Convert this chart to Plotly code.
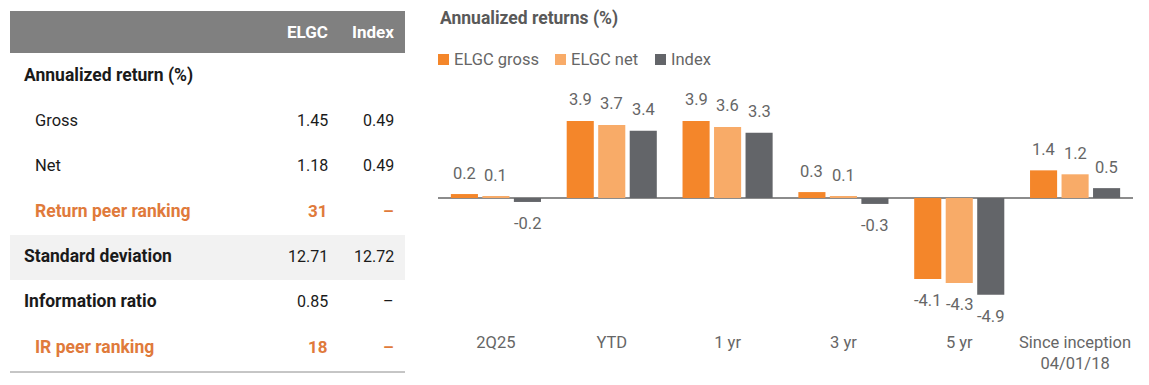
import plotly.graph_objects as go

# ---------------- data ----------------
categories = ["2Q25", "YTD", "1 yr", "3 yr", "5 yr", "Since inception<br>04/01/18"]
elgc_gross = [0.2, 3.9, 3.9, 0.3, -4.1, 1.4]
elgc_net = [0.1, 3.7, 3.6, 0.1, -4.3, 1.2]
index_ret = [-0.2, 3.4, 3.3, -0.3, -4.9, 0.5]
series_names = ["ELGC gross", "ELGC net", "Index"]

table_header = ["ELGC", "Index"]
row_labels = ["Annualized return (%)", "Gross", "Net", "Return peer ranking",
              "Standard deviation", "Information ratio", "IR peer ranking"]
row_elgc = ["", "1.45", "1.18", "31", "12.71", "0.85", "18"]
row_index = ["", "0.49", "0.49", "–", "12.72", "–", "–"]

# ---------------- styles ----------------
W, H = 1149, 385          # window size
OFF = 8                   # default body margin of the page
FW, FH = W - OFF, H - OFF # figure size
FONT = "Roboto"
colors = ["#F4862A", "#F8AB68", "#636569"]
ORANGE_TXT = "#E07A3B"
LABEL_GRAY = "#666666"
TXT = "#1A1A1A"

# table row style: (y_px, x_px, bold, orange, band)
row_style = [
    (75, 22, True, False, False),
    (120, 33, False, False, False),
    (165, 33, False, False, False),
    (211, 33, True, True, False),
    (256, 22, True, False, True),
    (301, 22, True, False, False),
    (347, 33, True, True, False),
]
COL_X = [330, 396]

# chart geometry
X0, X1 = 438, 1133
T, B, ZERO = 80, 330, 198
PPU = 19.75
BARGAP, GROUPGAP = 0.184, 0.14
cat_w = (X1 - X0) / len(categories)
slot = cat_w * (1 - BARGAP) / 3


def px(x):
    return (x - OFF) / FW


def py(y):
    return 1 - (y - OFF) / FH


fig = go.Figure()
for name, vals, col in zip(series_names, [elgc_gross, elgc_net, index_ret], colors):
    fig.add_trace(go.Bar(x=categories, y=vals, name=name, marker_color=col,
                         marker_line_width=0, showlegend=False, hoverinfo="x+y+name"))

annotations = []
shapes = []

# value labels
for j, vals in enumerate([elgc_gross, elgc_net, index_ret]):
    for c, v in zip(categories, vals):
        annotations.append(dict(
            x=c, y=v, xref="x", yref="y", text=f"{v:.1f}", showarrow=False,
            xshift=(j - 1) * slot, yshift=21 if v >= 0 else -22, yanchor="middle",
            font=dict(family=FONT, size=16.5, color=LABEL_GRAY)))

# chart title
annotations.append(dict(x=px(X0), y=py(19), xref="paper", yref="paper", xanchor="left",
                        yanchor="middle", showarrow=False, text="<b>Annualized returns (%)</b>",
                        font=dict(family=FONT, size=17.5, color="#595959")))

# legend
leg_x = [438, 555, 655]
for name, col, lx in zip(series_names, colors, leg_x):
    shapes.append(dict(type="rect", xref="paper", yref="paper",
                       x0=px(lx), x1=px(lx + 11), y0=py(65), y1=py(54),
                       fillcolor=col, line_width=0))
    annotations.append(dict(x=px(lx + 14), y=py(59), xref="paper", yref="paper",
                            xanchor="left", yanchor="middle", showarrow=False, text=name,
                            font=dict(family=FONT, size=16.5, color=LABEL_GRAY)))

# table header band
shapes.append(dict(type="rect", xref="paper", yref="paper", x0=px(10), x1=px(405),
                   y0=py(53), y1=py(11), fillcolor="#808080", line_width=0, layer="below"))
for h, cx in zip(table_header, COL_X):
    annotations.append(dict(x=px(cx), y=py(32), xref="paper", yref="paper", xanchor="right",
                            yanchor="middle", showarrow=False, text=f"<b>{h}</b>",
                            font=dict(family=FONT, size=17, color="white")))

# table rows
for lab, ve, vi, (ry, rx, bold, orange, band) in zip(row_labels, row_elgc, row_index, row_style):
    if band:
        shapes.append(dict(type="rect", xref="paper", yref="paper", x0=px(10), x1=px(405),
                           y0=py(280), y1=py(235), fillcolor="#F2F2F2", line_width=0,
                           layer="below"))
    color = ORANGE_TXT if orange else TXT
    annotations.append(dict(x=px(rx), y=py(ry), xref="paper", yref="paper", xanchor="left",
                            yanchor="middle", showarrow=False,
                            text=f"<b>{lab}</b>" if bold else lab,
                            font=dict(family=FONT, size=17.5 if bold else 16.5, color=color)))
    for val, cx in zip([ve, vi], COL_X):
        if val == "":
            continue
        vb = bold and orange
        annotations.append(dict(x=px(cx), y=py(ry), xref="paper", yref="paper",
                                xanchor="right", yanchor="middle", showarrow=False,
                                text=f"<b>{val}</b>" if vb else val,
                                font=dict(family=FONT, size=17 if vb else 16, color=color)))

shapes.append(dict(type="line", xref="paper", yref="paper", x0=px(10), x1=px(405),
                   y0=py(372), y1=py(372), line=dict(color="#8C8C8C", width=1)))

fig.update_layout(
    width=FW, height=FH, autosize=False,
    margin=dict(l=0, r=0, t=0, b=0),
    paper_bgcolor="white", plot_bgcolor="white",
    barmode="group", bargap=BARGAP, bargroupgap=GROUPGAP,
    font=dict(family=FONT, size=16, color=LABEL_GRAY),
    xaxis=dict(domain=[px(X0), px(X1)], showgrid=False, showline=False, ticks="",
               tickfont=dict(family=FONT, size=16.5, color=LABEL_GRAY), fixedrange=True),
    yaxis=dict(domain=[py(B), py(T)], range=[-(B - ZERO) / PPU, (ZERO - T) / PPU],
               showgrid=False, showticklabels=False, zeroline=True,
               zerolinecolor="#8C8C8C", zerolinewidth=1.5, fixedrange=True),
    annotations=annotations, shapes=shapes,
)

fig.write_html("out.html")
